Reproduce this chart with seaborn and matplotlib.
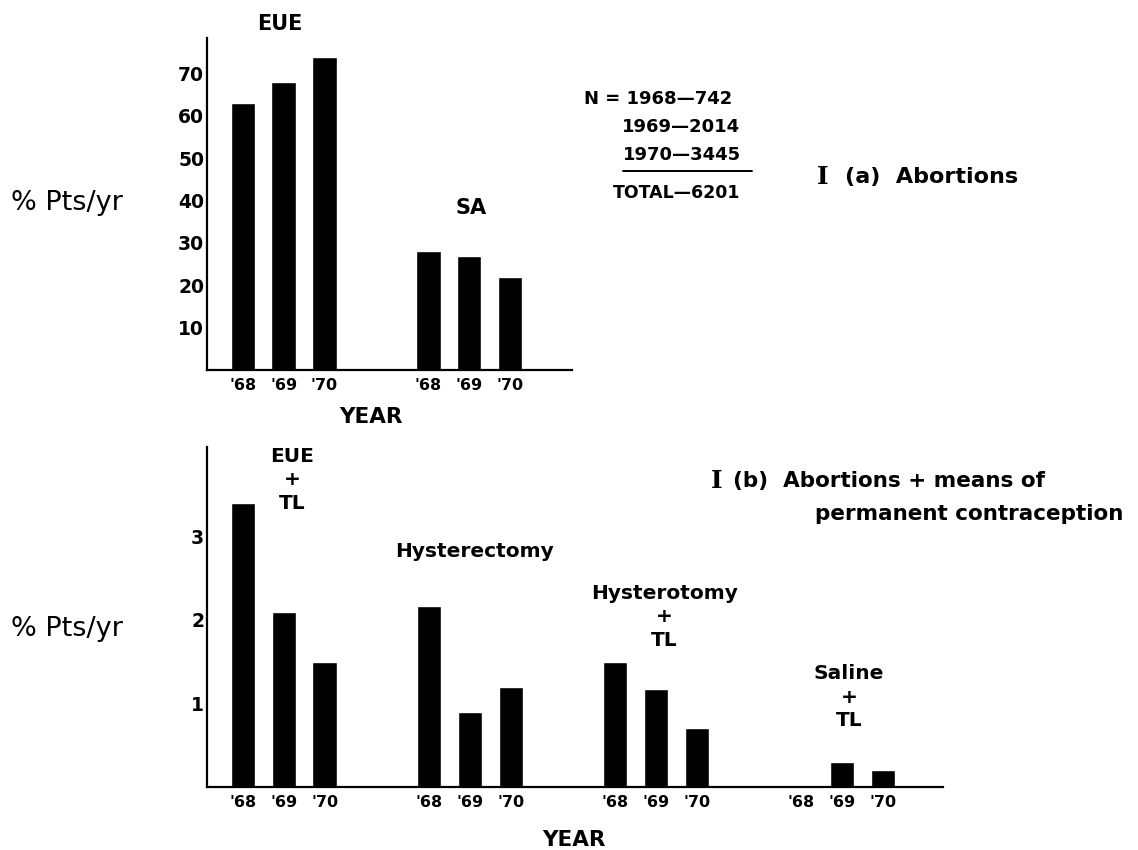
import numpy as np
import pandas as pd
import seaborn as sns
import matplotlib
matplotlib.use("Agg")
import matplotlib.pyplot as plt
from matplotlib.lines import Line2D

# data
years = ["'68", "'69", "'70"]

# I (a) abortions, % pts/yr
abort_groups = ["EUE", "SA"]
eue = [63, 68, 74]
sa = [28, 27, 22]

# I (b) abortions + means of permanent contraception, % pts/yr
perm_groups = ["EUE\n+\nTL", "Hysterectomy", "Hysterotomy\n+\nTL", "Saline\n+\nTL"]
eue_tl = [3.4, 2.1, 1.5]
hysterectomy = [2.17, 0.9, 1.2]
hysterotomy_tl = [1.5, 1.17, 0.7]
saline_tl = [0.02, 0.3, 0.2]

n_lines = ["N = 1968\u2014742", "1969\u20142014", "1970\u20143445"]
n_total = "TOTAL\u20146201"

GAP = 4.55   # distance between groups, in bar slots

sns.set_style("white")
plt.rcParams['font.family'] = ['DejaVu Sans']
plt.rcParams['text.color'] = 'black'
plt.rcParams['xtick.color'] = 'black'
plt.rcParams['ytick.color'] = 'black'

W, H = 1138, 850
fig = plt.figure(figsize=(W / 100, H / 100), dpi=100)


def fx(x):
    return x / W


def fy(y):
    return 1 - y / H


def make_df(groups):
    rows = []
    for g, vals in enumerate(groups):
        for i, v in enumerate(vals):
            rows.append({"pos": g * GAP + i, "year": years[i], "pct": v})
    return pd.DataFrame(rows)


def style_axis(ax):
    sns.despine(ax=ax)
    for s in ["left", "bottom"]:
        ax.spines[s].set_linewidth(1.6)
        ax.spines[s].set_color("black")
    ax.tick_params(axis="y", direction="in", length=13, width=1.6, pad=2,
                   labelsize=13.5, colors="black")
    ax.tick_params(axis="x", length=0, pad=6, labelsize=11.5, colors="black")
    for lab in ax.get_xticklabels() + ax.get_yticklabels():
        lab.set_fontweight("bold")
    ax.set_xlabel("")
    ax.set_ylabel("")


# ---- top panel
ax1 = fig.add_axes([fx(207), fy(370), fx(572) - fx(207), (370 - 38) / H])
top = make_df([eue, sa])
sns.barplot(data=top, x="pos", y="pct", native_scale=True, color="black",
            width=0.6, errorbar=None, saturation=1, ax=ax1)
ax1.set_xticks(top["pos"], top["year"])
ax1.set_yticks([10, 20, 30, 40, 50, 60, 70])
ax1.set_xlim(-0.88, GAP + 2 + 1.52)
ax1.set_ylim(0, 78.4)
style_axis(ax1)

ax1.text(0.9, 81.7, abort_groups[0], ha="center", va="center",
         fontsize=15, fontweight="bold", clip_on=False)
ax1.text(GAP + 1.05, 38.3, abort_groups[1], ha="center", va="center",
         fontsize=15, fontweight="bold", clip_on=False)

# ---- bottom panel
ax2 = fig.add_axes([fx(207), fy(786.5), fx(943) - fx(207), (786.5 - 447) / H])
bottom = make_df([eue_tl, hysterectomy, hysterotomy_tl, saline_tl])
sns.barplot(data=bottom, x="pos", y="pct", native_scale=True, color="black",
            width=0.6, errorbar=None, saturation=1, ax=ax2)
ax2.set_xticks(bottom["pos"], bottom["year"])
ax2.set_yticks([1, 2, 3])
ax2.set_xlim(-0.88, 3 * GAP + 2 + 1.47)
ax2.set_ylim(0, 4.075)
style_axis(ax2)

label_spots = [(1.2, 3.68), (GAP + 1.12, 2.82), (2 * GAP + 1.2, 2.04), (3 * GAP + 1.17, 1.07)]
for name, (lx, ly) in zip(perm_groups, label_spots):
    ax2.text(lx, ly, name, ha="center", va="center", fontsize=14.5,
             fontweight="bold", linespacing=1.3, clip_on=False)

# ---- axis titles
for yy in (203, 629):
    fig.text(fx(11), fy(yy), "% Pts/yr", ha="left", va="center", fontsize=19.5)
fig.text(fx(371), fy(417), "YEAR", ha="center", va="center", fontsize=15.5, fontweight="bold")
fig.text(fx(574), fy(840), "YEAR", ha="center", va="center", fontsize=15.5, fontweight="bold")

# ---- N block
fig.text(fx(584), fy(99), n_lines[0], ha="left", va="center", fontsize=13, fontweight="bold")
fig.text(fx(622), fy(127), n_lines[1], ha="left", va="center", fontsize=13, fontweight="bold")
fig.text(fx(623), fy(155), n_lines[2], ha="left", va="center", fontsize=13, fontweight="bold")
fig.add_artist(Line2D([fx(623), fx(752)], [fy(171), fy(171)], transform=fig.transFigure,
                      color="black", lw=1.4))
fig.text(fx(613), fy(193), n_total, ha="left", va="center", fontsize=12.5, fontweight="bold")

# ---- panel titles
fig.text(fx(817), fy(177), "I", ha="left", va="center", fontsize=18,
         family="DejaVu Serif", fontweight="bold")
fig.text(fx(845), fy(177), "(a)  Abortions", ha="left", va="center", fontsize=16, fontweight="bold")
fig.text(fx(711), fy(481), "I", ha="left", va="center", fontsize=18,
         family="DejaVu Serif", fontweight="bold")
fig.text(fx(733), fy(481), "(b)  Abortions + means of", ha="left", va="center",
         fontsize=15.5, fontweight="bold")
fig.text(fx(815), fy(514), "permanent contraception", ha="left", va="center",
         fontsize=15.5, fontweight="bold")

plt.savefig("out.png", dpi=100, facecolor="white")
